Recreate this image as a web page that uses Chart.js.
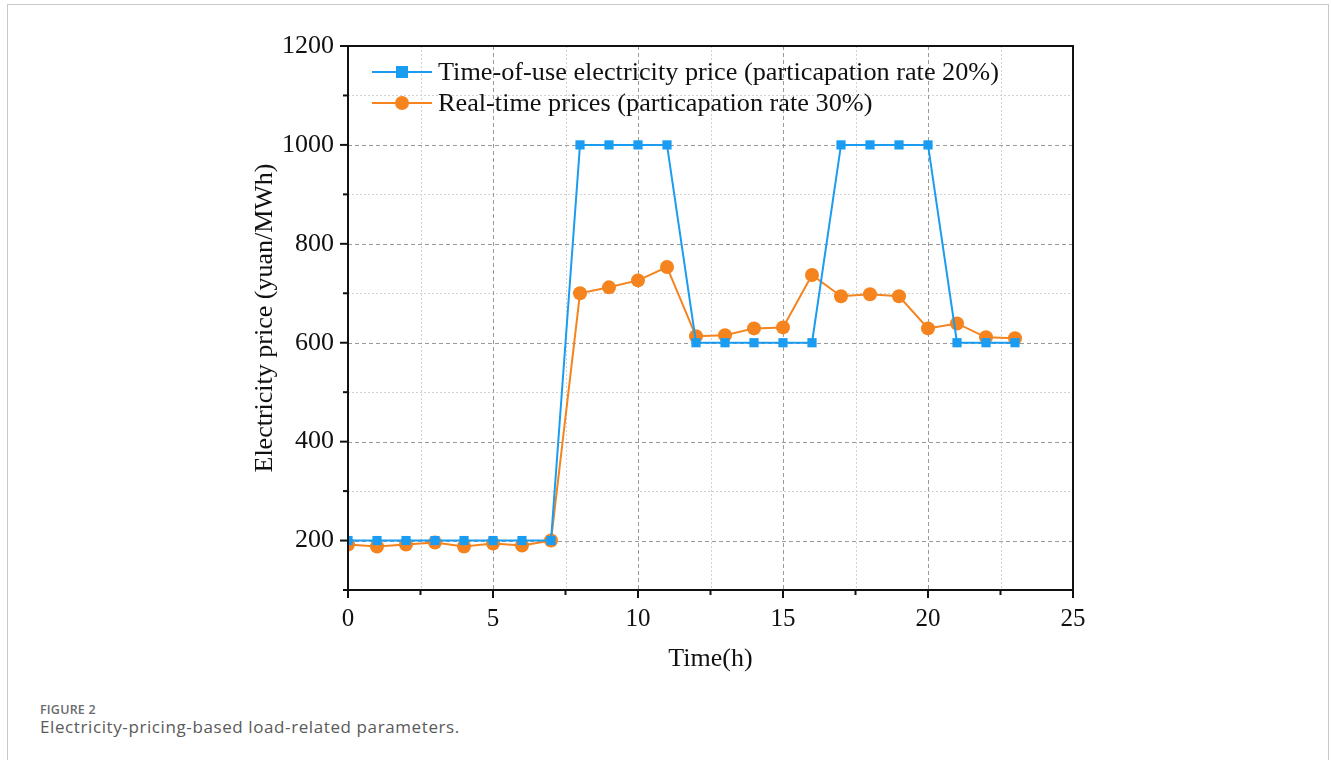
<!DOCTYPE html>
<html>
<head>
<meta charset="utf-8">
<script src="https://cdn.jsdelivr.net/npm/chart.js@4.4.1/dist/chart.umd.min.js"></script>
<style>
  html, body { margin: 0; padding: 0; background: #fff; width: 1331px; height: 760px; overflow: hidden; }
  #frame { position: absolute; left: 7px; top: 4px; width: 1322px; height: 800px; border-left: 1.5px solid #c8c8c8; border-top: 1.5px solid #c8c8c8; border-right: 1.5px solid #c8c8c8; box-sizing: border-box; }
  #wrap { position: absolute; left: 0; top: 0; width: 1331px; height: 700px; }
  #cap1 { position: absolute; left: 40px; top: 701px; font-family: "Open Sans", sans-serif; font-size: 12.5px; font-weight: 600; color: #6b6b6b; letter-spacing: 0.2px; }
  #cap2 { position: absolute; left: 40px; top: 715px; font-family: "Open Sans", sans-serif; font-size: 17px; color: #5a5a5a; letter-spacing: 0.6px; }
</style>
</head>
<body>
<div id="frame"></div>
<div id="wrap"><canvas id="c"></canvas></div>
<div id="cap1">FIGURE 2</div>
<div id="cap2">Electricity-pricing-based load-related parameters.</div>
<script>
const hours = [0,1,2,3,4,5,6,7,8,9,10,11,12,13,14,15,16,17,18,19,20,21,22,23];
const touPrice = [200,200,200,200,200,200,200,200,1000,1000,1000,1000,600,600,600,600,600,1000,1000,1000,1000,600,600,600];
const rtpPrice = [192,188,192,196,188,194,190,200,700,712,726,753,613,615,629,631,737,694,698,694,629,639,611,609];
const xTickVals = [0,5,10,15,20,25];
const yTickVals = [200,400,600,800,1000,1200];
const xMinorVals = [2.5,7.5,12.5,17.5,22.5];
const yMinorVals = [100,300,500,700,900,1100];
const seriesNames = ["Time-of-use electricity price (particapation rate 20%)", "Real-time prices (particapation rate 30%)"];
const blue = "#1a9cf2";
const orange = "#f5841f";
const serif = "'Liberation Serif', 'Times New Roman', serif";

const decoPlugin = {
  id: 'deco',
  beforeDatasetsDraw(chart) {
    const {ctx, chartArea: a, scales: {x, y}} = chart;
    ctx.save();
    ctx.lineWidth = 1;
    ctx.strokeStyle = '#d2d2d2';
    ctx.setLineDash([2, 2]);
    xMinorVals.forEach(v => { const px = Math.round(x.getPixelForValue(v)) + 0.5; ctx.beginPath(); ctx.moveTo(px, a.top); ctx.lineTo(px, a.bottom); ctx.stroke(); });
    yMinorVals.forEach(v => { if (v <= 100) return; const py = Math.round(y.getPixelForValue(v)) + 0.5; ctx.beginPath(); ctx.moveTo(a.left, py); ctx.lineTo(a.right, py); ctx.stroke(); });
    ctx.strokeStyle = '#9a9a9a';
    ctx.setLineDash([4, 3]);
    xTickVals.forEach(v => { if (v === 0 || v === 25) return; const px = Math.round(x.getPixelForValue(v)) + 0.5; ctx.beginPath(); ctx.moveTo(px, a.top); ctx.lineTo(px, a.bottom); ctx.stroke(); });
    yTickVals.forEach(v => { if (v === 1200) return; const py = Math.round(y.getPixelForValue(v)) + 0.5; ctx.beginPath(); ctx.moveTo(a.left, py); ctx.lineTo(a.right, py); ctx.stroke(); });
    ctx.restore();
  },
  afterDraw(chart) {
    const {ctx, chartArea: a, scales: {x, y}} = chart;
    ctx.save();
    ctx.setLineDash([]);
    ctx.strokeStyle = '#111';
    ctx.lineWidth = 2;
    ctx.strokeRect(a.left, a.top, a.right - a.left, a.bottom - a.top);
    xTickVals.forEach(v => { const px = x.getPixelForValue(v); ctx.beginPath(); ctx.moveTo(px, a.bottom); ctx.lineTo(px, a.bottom + 8); ctx.stroke(); });
    xMinorVals.forEach(v => { const px = x.getPixelForValue(v); ctx.beginPath(); ctx.moveTo(px, a.bottom); ctx.lineTo(px, a.bottom + 5); ctx.stroke(); });
    yTickVals.forEach(v => { const py = y.getPixelForValue(v); ctx.beginPath(); ctx.moveTo(a.left, py); ctx.lineTo(a.left - 8, py); ctx.stroke(); });
    yMinorVals.forEach(v => { const py = y.getPixelForValue(v); ctx.beginPath(); ctx.moveTo(a.left, py); ctx.lineTo(a.left - 5, py); ctx.stroke(); });
    // legend
    const lx0 = a.left + 24, lx1 = a.left + 84, tx = a.left + 90;
    const rows = [a.top + 26, a.top + 57];
    ctx.font = '25px ' + serif;
    ctx.textBaseline = 'middle';
    chart.data.datasets.forEach((ds, i) => {
      const ry = rows[i];
      ctx.strokeStyle = ds.borderColor; ctx.lineWidth = 2;
      ctx.beginPath(); ctx.moveTo(lx0, ry); ctx.lineTo(lx1, ry); ctx.stroke();
      ctx.fillStyle = ds.backgroundColor;
      const mx = (lx0 + lx1) / 2;
      if (ds.pointStyle === 'rect') { ctx.fillRect(mx - 6, ry - 6, 12, 12); }
      else { ctx.beginPath(); ctx.arc(mx, ry, 7, 0, Math.PI * 2); ctx.fill(); }
      ctx.fillStyle = '#111';
      ctx.save();
      ctx.translate(tx, ry + 1);
      ctx.scale(1.05, 1);
      ctx.fillText(ds.label, 0, 0);
      ctx.restore();
    });
    ctx.restore();
  }
};

new Chart(document.getElementById('c'), {
  type: 'line',
  data: {
    labels: hours,
    datasets: [
      { label: seriesNames[0], data: hours.map((h, i) => ({x: h, y: touPrice[i]})), borderColor: blue, backgroundColor: blue, borderWidth: 2, pointStyle: 'rect', pointRadius: 6.5, pointBorderWidth: 0, tension: 0 },
      { label: seriesNames[1], data: hours.map((h, i) => ({x: h, y: rtpPrice[i]})), borderColor: orange, backgroundColor: orange, borderWidth: 2, pointStyle: 'circle', pointRadius: 7, pointBorderWidth: 0, tension: 0 }
    ]
  },
  options: {
    responsive: true,
    maintainAspectRatio: false,
    animation: false,
    layout: { padding: { left: 250, right: 258, top: 46, bottom: 25 } },
    plugins: { legend: { display: false }, tooltip: { enabled: false } },
    scales: {
      x: {
        type: 'linear', min: 0, max: 25,
        afterBuildTicks: s => { s.ticks = xTickVals.map(v => ({value: v})); },
        afterFit: s => { s.height = 85; },
        grid: { display: false, drawTicks: false },
        border: { display: false },
        ticks: { padding: 14, color: '#111', font: { family: serif, size: 25 }, maxRotation: 0, callback: v => String(v) },
        title: { display: true, text: 'Time(h)', color: '#111', font: { family: serif, size: 26 }, padding: { top: 0, bottom: 0 } }
      },
      y: {
        type: 'linear', min: 100, max: 1200,
        afterBuildTicks: s => { s.ticks = yTickVals.map(v => ({value: v})); },
        afterFit: s => { s.width = 98; },
        grid: { display: false, drawTicks: false },
        border: { display: false },
        ticks: { padding: 14, color: '#111', font: { family: serif, size: 26 }, callback: v => String(v) },
        title: { display: true, text: 'Electricity price (yuan/MWh)', color: '#111', font: { family: serif, size: 26 }, padding: 0 }
      }
    }
  },
  plugins: [decoPlugin]
});
</script>
</body>
</html>
